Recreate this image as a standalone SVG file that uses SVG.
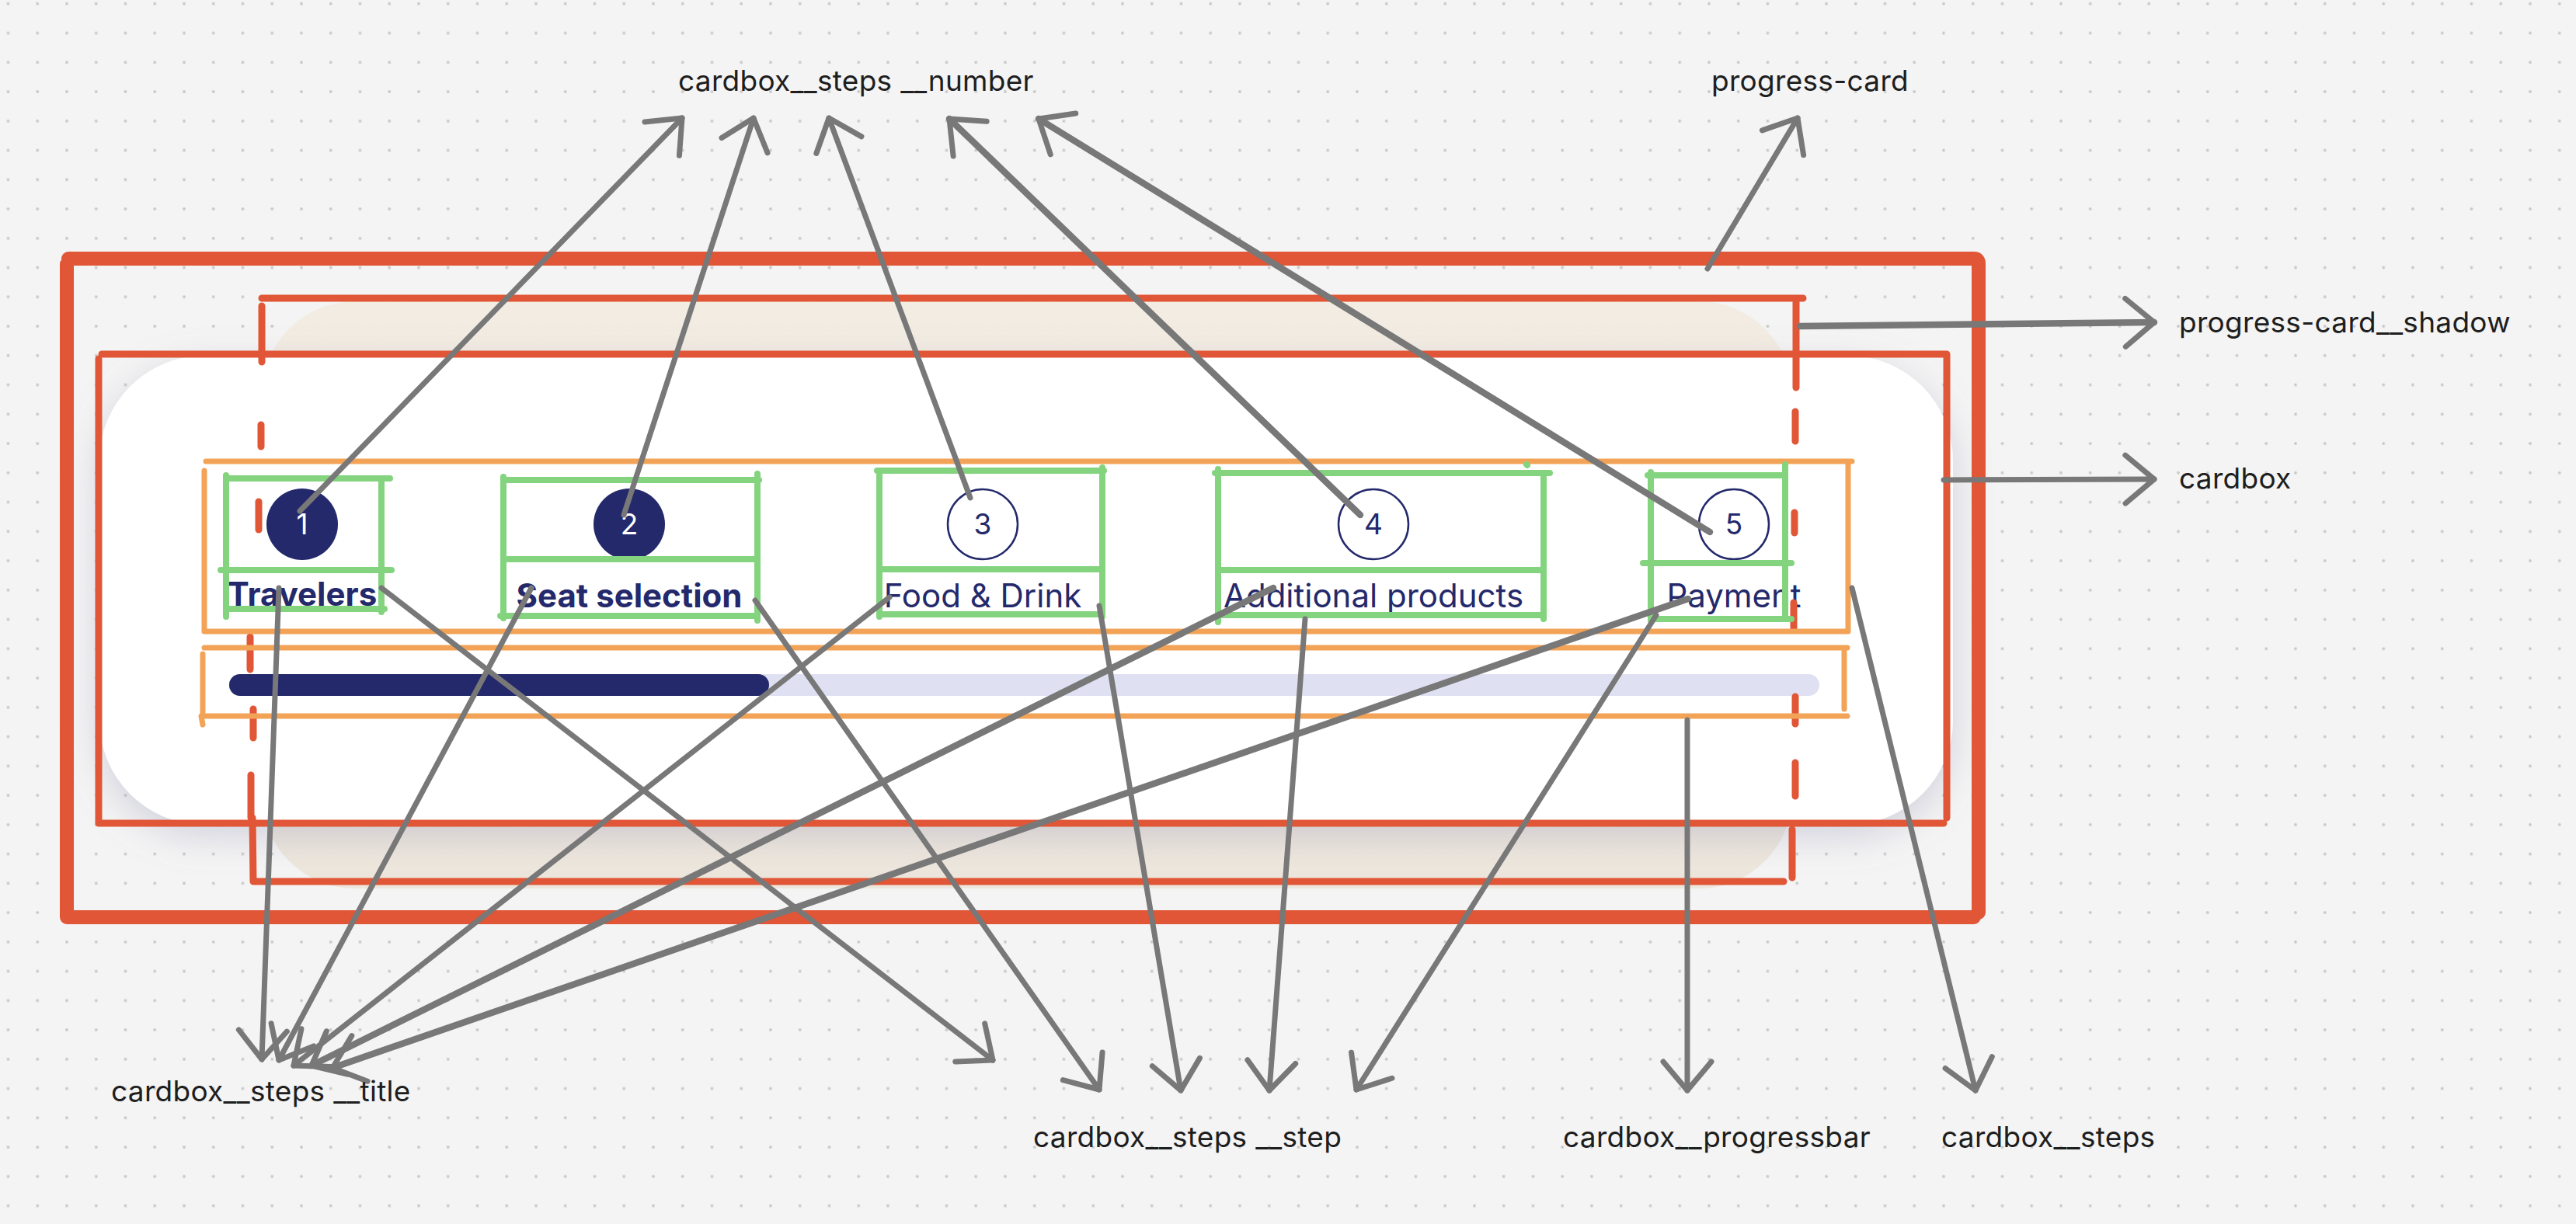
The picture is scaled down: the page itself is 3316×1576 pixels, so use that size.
<svg xmlns="http://www.w3.org/2000/svg" width="3316" height="1576" viewBox="0 0 3316 1576">
  <defs>
    <pattern id="dots" x="-8.375" y="-14.075" width="37.75" height="37.75" patternUnits="userSpaceOnUse">
      <circle cx="18.875" cy="18.875" r="1.9" fill="#c9c9c9"/>
    </pattern>
    <filter id="cardShadow" x="-10%" y="-20%" width="120%" height="150%">
      <feDropShadow dx="0" dy="14" stdDeviation="24" flood-color="#8e8eb0" flood-opacity="0.35"/>
    </filter>
    <linearGradient id="beige" x1="0" y1="0" x2="0" y2="1">
      <stop offset="0" stop-color="#f2ece2"/>
      <stop offset="1" stop-color="#ede6dc"/>
    </linearGradient>
    <marker id="ah" markerUnits="userSpaceOnUse" viewBox="-50 -40 60 80" refX="0" refY="0" markerWidth="60" markerHeight="80" orient="auto">
      <path d="M-37,-31 L0,0 L-37,31" fill="none" stroke="#787878" stroke-width="7" stroke-linecap="round" stroke-linejoin="round"/>
    </marker>
    <style>
      .red { fill: none; stroke: #e05636; stroke-linecap: round; stroke-linejoin: round; }
      .org { fill: none; stroke: #f2a357; stroke-width: 7; stroke-linecap: round; stroke-linejoin: round; }
      .grn { fill: none; stroke: #84d47f; stroke-width: 8; stroke-linecap: round; stroke-linejoin: round; }
      .arr { fill: none; stroke: #787878; stroke-width: 7; stroke-linecap: round; marker-end: url(#ah); }
      .thick { stroke-width: 8.5; }
      .lbl { font-family: Inter, "Liberation Sans", sans-serif; font-size: 37px; letter-spacing: 0.3px; fill: #1e1e1e; }
      .num { font-family: Inter, "Liberation Sans", sans-serif; font-size: 37px; text-anchor: middle; }
      .ttl { font-family: Inter, "Liberation Sans", sans-serif; font-size: 42px; fill: #24296b; text-anchor: middle; }
      .b { font-weight: 700; }
    </style>
  </defs>

  <rect width="3316" height="1576" fill="#f4f4f4"/>
  <rect width="3316" height="1576" fill="url(#dots)"/>

  <g id="progress-card-shadow-fill">
    <rect x="337" y="388" width="1970" height="756" rx="120" fill="url(#beige)"/>
  </g>

  <g id="cardbox-card">
    <rect x="128" y="458" width="2386" height="604" rx="135" fill="#ffffff" filter="url(#cardShadow)"/>
  </g>

  <g id="progressbar">
    <rect x="295" y="868" width="2047" height="28" rx="14" fill="#dfe0f2"/>
    <rect x="295" y="868" width="695" height="28" rx="14" fill="#24296b"/>
  </g>

  <g id="step-1">
    <circle cx="389" cy="675" r="46" fill="#24296b"/>
    <text class="num" x="389" y="688" fill="#ffffff">1</text>
    <text class="ttl b" x="389" y="780">Travelers</text>
  </g>
  <g id="step-2">
    <circle cx="810" cy="675" r="46" fill="#24296b"/>
    <text class="num" x="810" y="688" fill="#ffffff">2</text>
    <text class="ttl b" x="810" y="782">Seat selection</text>
  </g>
  <g id="step-3">
    <circle cx="1265" cy="675" r="45" fill="#ffffff" stroke="#24296b" stroke-width="2.5"/>
    <text class="num" x="1265" y="688" fill="#24296b">3</text>
    <text class="ttl" x="1265" y="782">Food &amp; Drink</text>
  </g>
  <g id="step-4">
    <circle cx="1768" cy="675" r="45" fill="#ffffff" stroke="#24296b" stroke-width="2.5"/>
    <text class="num" x="1768" y="688" fill="#24296b">4</text>
    <text class="ttl" x="1768" y="782">Additional products</text>
  </g>
  <g id="step-5">
    <circle cx="2232" cy="675" r="45" fill="#ffffff" stroke="#24296b" stroke-width="2.5"/>
    <text class="num" x="2232" y="688" fill="#24296b">5</text>
    <text class="ttl" x="2232" y="782">Payment</text>
  </g>

  <g id="outline-progress-card">
    <path class="red" stroke-width="18" d="M88,333 L2541,333 Q2547,333 2547,339 L2547,1175 M2541,1181 L86,1181 L86,340"/>
  </g>
  <g id="outline-progress-card-shadow">
    <path class="red" stroke-width="9" d="M337,384 L2321,384 M2312,384 L2312,499 M2311,530 L2311,568 M2310,660 L2310,686 M2309,776 L2309,809 M2311,897 L2311,932 M2311,982 L2311,1025 M2307,1068 L2307,1130 M2296,1135 L326,1135 L325,1053 M323,1053 L323,998 M326,950 L326,913 M322,862 L322,820 M333,682 L333,646 M336,575 L336,547 M337,466 L337,394"/>
  </g>
  <g id="outline-cardbox">
    <path class="red" stroke-width="9" d="M131,456 L2506,456 L2506,1053 M2502,1060 L127,1060 L127,462"/>
  </g>
  <g id="outline-cardbox-steps">
    <path class="org" d="M265,594 L2384,594 M2379,598 L2379,813 L263,813 L263,606"/>
  </g>
  <g id="outline-cardbox-progressbar">
    <path class="org" d="M263,834 L2378,834 M2374,838 L2374,913 M2378,922 L259,922 L261,933 M261,922 L261,842"/>
  </g>
  <g id="outline-steps">
    <path class="grn" d="M291,616 L502,616 M491,618 L491,788 M495,784 L291,784 M291,794 L291,612 M284,734 L504,734"/>
    <path class="grn" d="M648,618 L977,618 M975,610 L975,799 M971,793 L644,793 M648,796 L648,614 M654,720 L973,720"/>
    <path class="grn" d="M1129,606 L1421,606 M1419,602 L1419,794 M1419,791 L1132,791 M1132,794 L1132,606 M1132,733 L1419,733"/>
    <path class="grn" d="M1564,609 L1995,609 M1987,614 L1987,797 M1987,792 L1568,792 M1568,801 L1568,604 M1568,734 L1987,734 M1965,598 L1966,599"/>
    <path class="grn" d="M2121,612 L2298,612 M2298,598 L2298,797 M2306,797 L2128,797 M2125,799 L2125,608 M2115,725 L2306,725"/>
  </g>

  <g id="connectors">
    <line class="arr" x1="386" y1="658" x2="878" y2="152"/>
    <line class="arr" x1="803" y1="663" x2="970" y2="152"/>
    <line class="arr" x1="1249" y1="641" x2="1067" y2="152"/>
    <line class="arr thick" x1="1751" y1="663" x2="1222" y2="153"/>
    <line class="arr thick" x1="2201" y1="685" x2="1337" y2="153"/>
    <line class="arr" x1="2198" y1="346" x2="2314" y2="152"/>
    <line class="arr thick" x1="2317" y1="420" x2="2773" y2="415"/>
    <line class="arr" x1="2502" y1="618" x2="2773" y2="617"/>
    <line class="arr" x1="359" y1="757" x2="337" y2="1364"/>
    <line class="arr" x1="684" y1="757" x2="359" y2="1365"/>
    <line class="arr" x1="1145" y1="769" x2="378" y2="1372"/>
    <line class="arr thick" x1="1639" y1="757" x2="401" y2="1372"/>
    <line class="arr thick" x1="2173" y1="771" x2="428" y2="1375"/>
    <line class="arr" x1="491" y1="757" x2="1278" y2="1365"/>
    <line class="arr" x1="972" y1="773" x2="1415" y2="1403"/>
    <line class="arr" x1="1415" y1="780" x2="1520" y2="1404"/>
    <line class="arr" x1="1680" y1="797" x2="1634" y2="1404"/>
    <line class="arr" x1="2132" y1="792" x2="1746" y2="1403"/>
    <line class="arr" x1="2172" y1="927" x2="2172" y2="1404"/>
    <line class="arr" x1="2384" y1="757" x2="2543" y2="1404"/>
  </g>

  <g id="labels">
    <text class="lbl" x="873" y="117">cardbox__steps __number</text>
    <text class="lbl" x="2203" y="117">progress-card</text>
    <text class="lbl" x="2805" y="428">progress-card__shadow</text>
    <text class="lbl" x="2805" y="629">cardbox</text>
    <text class="lbl" x="143" y="1418">cardbox__steps __title</text>
    <text class="lbl" x="1330" y="1477">cardbox__steps __step</text>
    <text class="lbl" x="2012" y="1477">cardbox__progressbar</text>
    <text class="lbl" x="2499" y="1477">cardbox__steps</text>
  </g>
</svg>
